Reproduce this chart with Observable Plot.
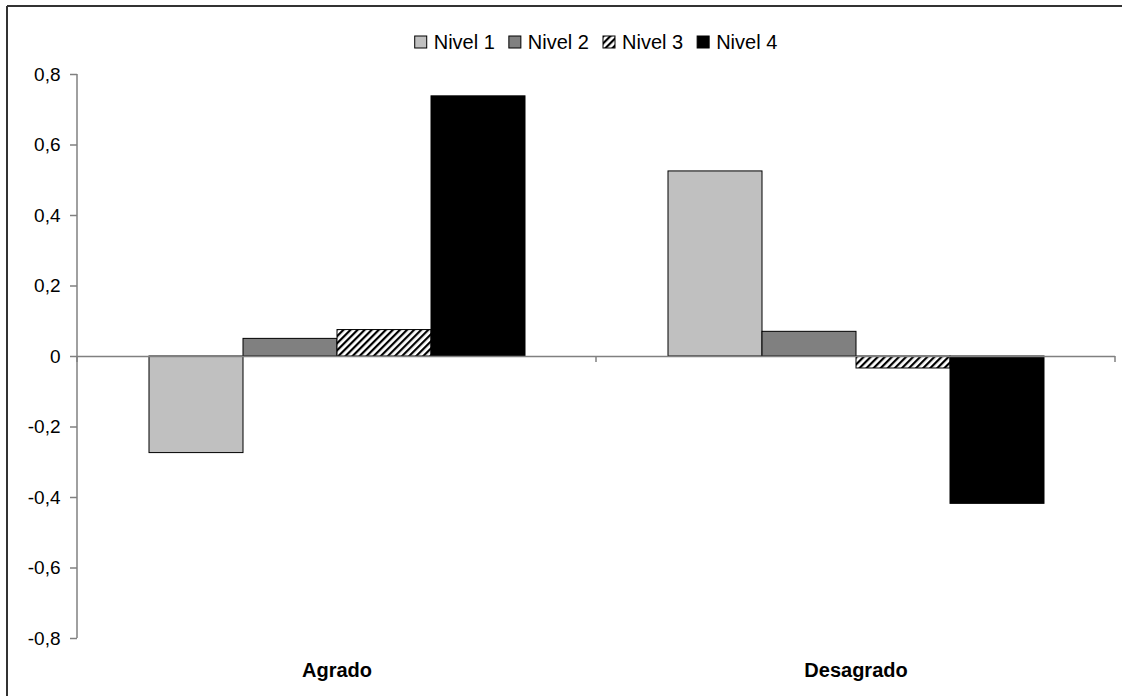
<!DOCTYPE html>
<html>
<head>
<meta charset="utf-8">
<script src="https://cdn.jsdelivr.net/npm/d3@7"></script>
<script src="https://cdn.jsdelivr.net/npm/@observablehq/plot@0.6"></script>
<style>
  html, body { margin: 0; padding: 0; background: #fff; }
  #chart svg { display: block; }
</style>
</head>
<body>
<div id="chart"></div>
<script>
const categories = ["Agrado", "Desagrado"];
const levels = ["Nivel 1", "Nivel 2", "Nivel 3", "Nivel 4"];
const agradoValues = [-0.274, 0.050, 0.075, 0.738];
const desagradoValues = [0.525, 0.070, -0.034, -0.418];
const yTicks = [-0.8, -0.6, -0.4, -0.2, 0, 0.2, 0.4, 0.6, 0.8];
const levelFills = ["#c0c0c0", "#808080", "url(#hatch3)", "#000000"];

const seriesByCat = [agradoValues, desagradoValues];
const data = categories.flatMap((cat, i) =>
  levels.map((level, j) => ({ cat, level, value: seriesByCat[i][j] }))
);

const FONT = "'Liberation Sans', Arial, Helvetica, sans-serif";
const fmt = d => d === 0 ? "0" : d.toFixed(1).replace(".", ",");

const plot = Plot.plot({
  width: 1122,
  height: 696,
  marginLeft: 77,
  marginRight: 7,
  marginTop: 74,
  marginBottom: 58,
  style: { fontFamily: FONT, fontSize: "19px", color: "#000", background: "#fff", overflow: "visible" },
  fx: { domain: categories, padding: 0, label: null },
  x: { domain: levels, paddingInner: 0, paddingOuter: 0.75, axis: null },
  y: { domain: [-0.8, 0.8], label: null },
  color: { domain: levels, range: levelFills },
  marks: [
    Plot.barY(data, { fx: "cat", x: "level", y: "value", fill: "level", stroke: "#000", strokeWidth: 1, insetLeft: 0, insetRight: 0 }),
    Plot.ruleY([0], { stroke: "#808080", strokeWidth: 1.5 }),
    Plot.axisY({ ticks: yTicks, tickFormat: fmt, tickSize: 7, tickPadding: 10, stroke: "#808080", strokeWidth: 1.5, fill: "#000", fontSize: 19, label: null }),
    Plot.axisFx({ anchor: "bottom", tickSize: 0, tickPadding: 24, fontWeight: "bold", fontSize: 20, fill: "#000", label: null })
  ]
});

document.getElementById("chart").appendChild(plot);

const svg = d3.select(plot);
// hatch pattern
const defs = svg.insert("defs", ":first-child");
const pat = defs.append("pattern")
  .attr("id", "hatch3")
  .attr("patternUnits", "userSpaceOnUse")
  .attr("width", 5).attr("height", 5)
  .attr("patternTransform", "rotate(45)");
pat.append("rect").attr("width", 5).attr("height", 5).attr("fill", "#fff");
pat.append("rect").attr("width", 2.2).attr("height", 5).attr("fill", "#000");

// y axis line & category boundary ticks from Plot's scales
const ys = plot.scale("y");
const fxs = plot.scale("fx");
const yTop = ys.apply(0.8), yBot = ys.apply(-0.8), y0 = ys.apply(0);
const xLeft = fxs.apply(categories[0]);
const bw = fxs.bandwidth;
const extra = svg.append("g").attr("stroke", "#808080").attr("stroke-width", 1.5);
extra.append("line").attr("x1", xLeft).attr("x2", xLeft).attr("y1", yTop).attr("y2", yBot);
const bounds = categories.map(c => fxs.apply(c)).concat([fxs.apply(categories[categories.length - 1]) + bw]);
bounds.forEach(b => {
  extra.append("line").attr("x1", b).attr("x2", b).attr("y1", y0).attr("y2", y0 + 6);
});

// outer frame (left and top edges)
const frame = svg.append("g").attr("stroke", "#333").attr("stroke-width", 2).attr("fill", "none");
frame.append("line").attr("x1", 7).attr("x2", 7).attr("y1", 6).attr("y2", 696);
frame.append("line").attr("x1", 7).attr("x2", 1122).attr("y1", 6).attr("y2", 6);

// legend
const cs = plot.scale("color");
const lg = svg.append("g").attr("font-family", FONT).attr("font-size", 20).attr("text-anchor", "start");
let cx = 0;
levels.forEach((lv) => {
  const g = lg.append("g");
  g.append("rect").attr("x", 0).attr("y", -6).attr("width", 12).attr("height", 12)
    .attr("fill", cs.apply(lv)).attr("stroke", "#000").attr("stroke-width", 1);
  const t = g.append("text").attr("x", 19).attr("y", 0).attr("dy", "0.35em").attr("fill", "#000").text(lv);
  const w = 19 + t.node().getComputedTextLength();
  g.attr("transform", `translate(${cx},0)`);
  cx += w + 14;
});
const totalW = cx - 14;
const center = (xLeft + bounds[bounds.length - 1]) / 2;
lg.attr("transform", `translate(${center - totalW / 2},42)`);
</script>
</body>
</html>
